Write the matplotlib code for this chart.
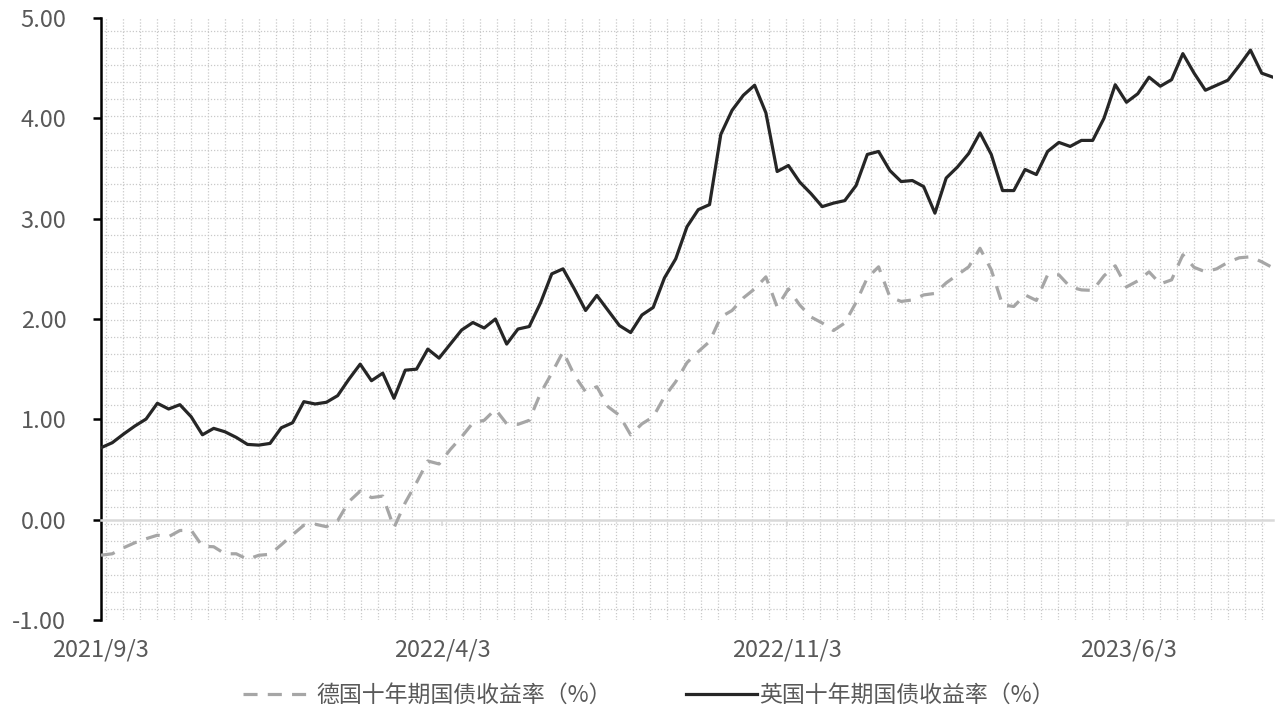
import numpy as np
import pandas as pd
import matplotlib
matplotlib.use('Agg')
import matplotlib.pyplot as plt
from matplotlib.ticker import FormatStrFormatter

plt.rcParams['font.family'] = ['Noto Sans CJK SC', 'DejaVu Sans']
plt.rcParams['axes.unicode_minus'] = True

# weekly observations, starting 2021/9/3
dates = pd.date_range('2021-09-03', periods=105, freq='7D')

uk_yield = [0.717, 0.767, 0.853, 0.933, 1.003, 1.16, 1.103, 1.146, 1.026, 0.846,
            0.91, 0.876, 0.82, 0.75, 0.743, 0.76, 0.916, 0.966, 1.176, 1.153,
            1.17, 1.236, 1.40, 1.55, 1.385, 1.46, 1.21, 1.49, 1.50, 1.70,
            1.61, 1.75, 1.89, 1.965, 1.91, 2.00, 1.75, 1.90, 1.925, 2.16,
            2.45, 2.50, 2.30, 2.085, 2.235, 2.085, 1.935, 1.865, 2.04, 2.115,
            2.41, 2.60, 2.92, 3.09, 3.14, 3.84, 4.08, 4.23, 4.33, 4.055,
            3.47, 3.53, 3.365, 3.25, 3.12, 3.155, 3.18, 3.33, 3.64, 3.67,
            3.48, 3.37, 3.38, 3.32, 3.055, 3.405, 3.515, 3.65, 3.855, 3.64,
            3.28, 3.28, 3.49, 3.44, 3.67, 3.76, 3.72, 3.78, 3.78, 4.00,
            4.335, 4.16, 4.245, 4.41, 4.32, 4.385, 4.645, 4.45, 4.28, 4.33,
            4.38, 4.525, 4.68, 4.45, 4.41]

de_yield = [-0.354, -0.34, -0.28, -0.23, -0.19, -0.155, -0.17, -0.108, -0.105, -0.265,
            -0.27, -0.34, -0.34, -0.395, -0.355, -0.345, -0.25, -0.15, -0.055, -0.045,
            -0.07, -0.01, 0.18, 0.285, 0.22, 0.235, -0.08, 0.17, 0.37, 0.585,
            0.555, 0.70, 0.825, 0.965, 0.99, 1.10, 0.955, 0.95, 0.99, 1.26,
            1.46, 1.675, 1.44, 1.275, 1.325, 1.125, 1.04, 0.845, 0.955, 1.025,
            1.225, 1.375, 1.565, 1.675, 1.775, 2.02, 2.085, 2.21, 2.30, 2.42,
            2.12, 2.30, 2.14, 2.02, 1.96, 1.885, 1.96, 2.165, 2.41, 2.52,
            2.22, 2.175, 2.19, 2.24, 2.255, 2.36, 2.44, 2.52, 2.705, 2.49,
            2.14, 2.125, 2.24, 2.185, 2.44, 2.44, 2.32, 2.29, 2.285, 2.43,
            2.53, 2.32, 2.38, 2.47, 2.35, 2.39, 2.64, 2.515, 2.47, 2.50,
            2.565, 2.61, 2.62, 2.57, 2.51]

tick_dates = pd.to_datetime(['2021-09-03', '2022-04-03', '2022-11-03', '2023-06-03'])
tick_labels = ['2021/9/3', '2022/4/3', '2022/11/3', '2023/6/3']

de_label = '德国十年期国债收益率（%）'
uk_label = '英国十年期国债收益率（%）'

txt_color = '#595959'

fig = plt.figure(figsize=(12.8, 7.06), dpi=100)
ax = fig.add_axes([101 / 1280, 1 - 620 / 706, 1172 / 1280, 602 / 706])

# dotted background pattern (fixed pixel spacing like the source chart)
hfrac = 1 - (12.7 + 17 * np.arange(35)) / 602
vfrac = (5 + 17 * np.arange(69)) / 1172
ax.hlines(hfrac, 0, 0.992, transform=ax.transAxes, colors='#c9c9c9',
          linestyles=(0, (1, 1.5)), linewidth=0.9, zorder=0)
ax.vlines(vfrac, 0, 1, transform=ax.transAxes, colors='#c9c9c9',
          linestyles=(0, (1, 1.5)), linewidth=0.9, zorder=0)

ax.plot(dates, de_yield, color='#a6a6a6', lw=2.3, linestyle=(0, (4.4, 3.2)),
        label=de_label, zorder=3)
ax.plot(dates, uk_yield, color='#262626', lw=2.3, label=uk_label, zorder=4,
        solid_joinstyle='round')

ax.set_xlim(dates[0], dates[-1])
ax.set_ylim(-1, 5)
ax.set_yticks(np.arange(-1, 5.01, 1))
ax.yaxis.set_major_formatter(FormatStrFormatter('%.2f'))

for s in ['top', 'right']:
    ax.spines[s].set_visible(False)
ax.spines['left'].set_linewidth(1.8)
ax.spines['left'].set_color('black')
ax.spines['bottom'].set_position(('data', 0))
ax.spines['bottom'].set_color('#d9d9d9')
ax.spines['bottom'].set_linewidth(1.8)

ax.tick_params(axis='y', length=6, width=1.8, color='black', labelsize=17,
               labelcolor=txt_color, pad=19)
ax.set_xticks(tick_dates)
ax.tick_params(axis='x', length=4, width=1.2, color='#d9d9d9', labelbottom=False)

for d, lab in zip(tick_dates, tick_labels):
    ax.text(d, -0.03, lab, transform=ax.get_xaxis_transform(), ha='center',
            va='top', fontsize=17, color=txt_color)

leg = fig.legend(loc='lower center', bbox_to_anchor=(0.507, -0.03), ncol=2,
                 frameon=False, fontsize=16.5, handlelength=3.1, handletextpad=0.1,
                 columnspacing=3.2, labelcolor=txt_color)

fig.savefig('out.png', dpi=100)
